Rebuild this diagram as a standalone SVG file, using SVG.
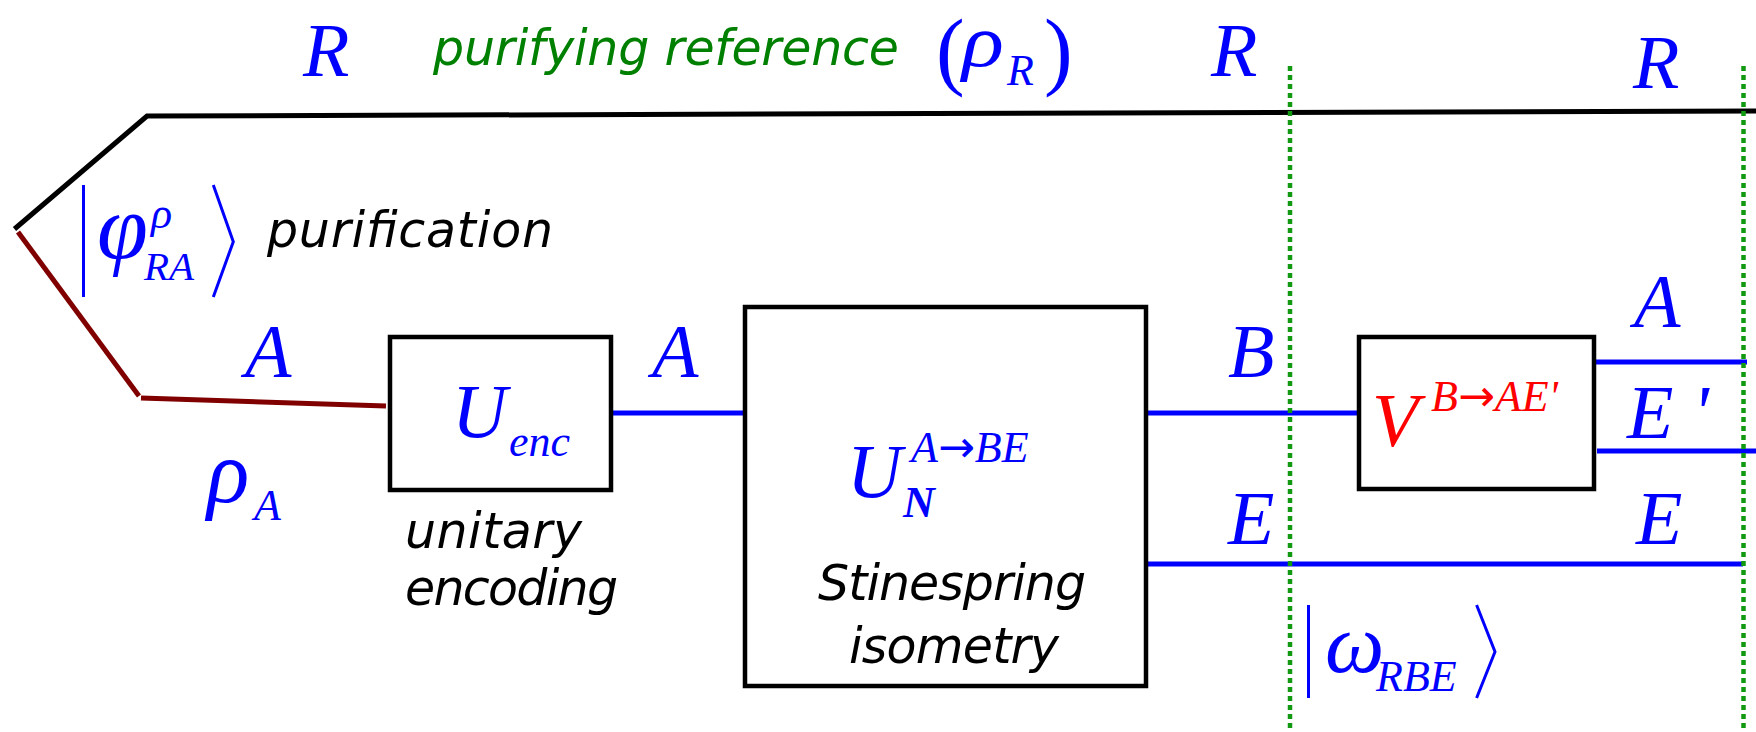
<svg xmlns="http://www.w3.org/2000/svg" width="1756" height="732" viewBox="0 0 1756 732">
<style>
.m{font-family:"Liberation Serif","Times New Roman",serif;font-style:italic;fill:#0000ff}
.up{font-style:normal}
.arr{font-family:"DejaVu Sans",sans-serif;font-style:normal}
.big{font-size:76px}
.gr{font-size:88px}
.sub{font-size:44px}
.t{font-family:"DejaVu Sans",sans-serif;font-style:oblique;font-size:49px;fill:#000}
.box{fill:#fff;stroke:#000;stroke-width:4.5}
.wb{fill:none;stroke:#0000ff;stroke-width:5}
.ket{fill:none;stroke:#0000ff;stroke-width:3}
.dot{fill:none;stroke:#119911;stroke-width:4.5;stroke-dasharray:5 4}
</style>
<rect width="1756" height="732" fill="#fff"/>
<g id="connectors">
  <path d="M14.5,229 L147,116 L1756,111" fill="none" stroke="#000" stroke-width="5"/>
  <path d="M18,232 L139,396" fill="none" stroke="#800000" stroke-width="5"/>
  <path d="M141,398 L386,406" fill="none" stroke="#800000" stroke-width="5"/>
  <path class="wb" d="M611,413 L745,413"/>
  <path class="wb" d="M1146,413 L1359,413"/>
  <path class="wb" d="M1588,362 L1747,362"/>
  <path class="wb" d="M1597,451 L1756,451"/>
  <path class="wb" d="M1146,564 L1743,564"/>
  <path class="dot" d="M1290,66 L1290,732"/>
  <path class="dot" d="M1743.5,66 L1743.5,732"/>
</g>
<g id="labels">
  <text class="m big" x="303" y="76">R</text>
  <text class="m big" x="1211" y="76">R</text>
  <text class="m big" x="1633" y="88">R</text>
  <text class="t" x="433" y="65" textLength="466" lengthAdjust="spacing" style="fill:#008000">purifying reference</text>
  <text class="m up" x="936" y="79" font-size="86">(</text>
  <text class="m" transform="translate(962,66) scale(1.18,1)" font-size="74">ρ</text>
  <text class="m sub" x="1007" y="85">R</text>
  <text class="m up" x="1044" y="79" font-size="86">)</text>
  <text class="m big" x="245" y="377">A</text>
  <text class="m big" x="652" y="377">A</text>
  <text class="m big" x="1228" y="377">B</text>
  <text class="m big" x="1634" y="327">A</text>
  <text class="m big" x="1627" y="438">E '</text>
  <text class="m big" x="1228" y="544">E</text>
  <text class="m big" x="1636" y="544">E</text>
  <text class="m gr" x="207" y="502">ρ</text>
  <text class="m sub" x="254" y="520">A</text>
</g>
<g id="purification">
  <path class="ket" d="M83.5,185 L83.5,297"/>
  <path class="ket" d="M213.3,185 L233.3,241.7 L213.3,297"/>
  <text class="m" x="97" y="258" font-size="92">φ</text>
  <text class="m sub" x="151" y="228">ρ</text>
  <text class="m" x="144" y="280" font-size="41">RA</text>
  <text class="t" x="267" y="247" textLength="286" lengthAdjust="spacing">purification</text>
</g>
<g id="encoder">
  <rect class="box" x="390" y="337" width="221" height="153"/>
  <text class="m big" x="452" y="437">U</text>
  <text class="m sub" x="509" y="456">enc</text>
  <text class="t" x="405" y="548" textLength="177" lengthAdjust="spacing">unitary</text>
  <text class="t" x="405" y="605" textLength="213" lengthAdjust="spacing">encoding</text>
</g>
<g id="stinespring">
  <rect class="box" x="745" y="307" width="401" height="379"/>
  <text class="m big" x="847" y="497">U</text>
  <text class="m sub" x="911" y="462">A<tspan class="arr">→</tspan>BE</text>
  <text class="m sub" x="903" y="517" font-weight="bold">N</text>
  <text class="t" x="818" y="600" textLength="268" lengthAdjust="spacing">Stinespring</text>
  <text class="t" x="849" y="663" textLength="210" lengthAdjust="spacing">isometry</text>
</g>
<g id="decoder">
  <rect class="box" x="1359" y="337" width="235" height="152"/>
  <text class="m big" x="1372" y="446" style="fill:#ff0000">V</text>
  <text class="m sub" x="1431" y="411" style="fill:#ff0000">B<tspan class="arr">→</tspan>AE'</text>
</g>
<g id="omega">
  <path class="ket" d="M1308.5,605 L1308.5,698"/>
  <path class="ket" d="M1476.6,605 L1495,651.7 L1476.6,698"/>
  <text class="m" x="1325" y="672" font-size="84">ω</text>
  <text class="m sub" x="1376" y="691">RBE</text>
</g>
</svg>
